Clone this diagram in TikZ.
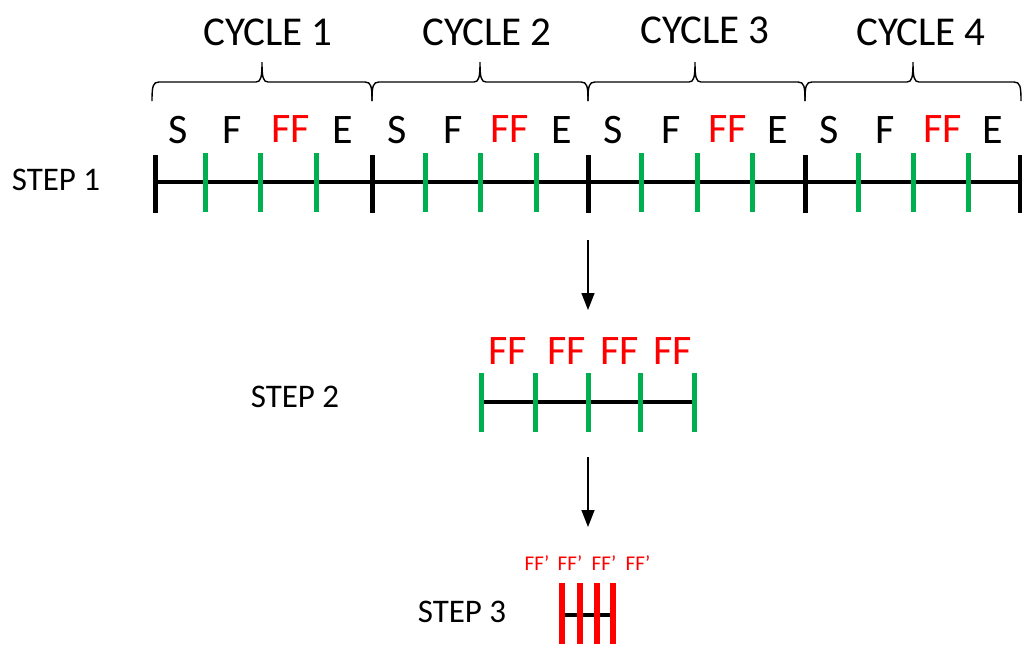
\documentclass[tikz,border=0pt]{standalone}
\usepackage{fontspec}
\setmainfont{Carlito}
\usetikzlibrary{arrows.meta}
\definecolor{tickgreen}{RGB}{0,176,80}
\definecolor{ffred}{RGB}{255,0,0}
\begin{document}
\begin{tikzpicture}[x=1pt,y=-1pt,
  phase/.style={inner sep=0pt,anchor=center,font=\fontsize{42}{50}\selectfont},
  cycletitle/.style={inner sep=0pt,anchor=center,font=\fontsize{41}{49}\selectfont},
  steplabel/.style={inner sep=0pt,font=\fontsize{33}{40}\selectfont},
  smallff/.style={inner sep=0pt,text=ffred,font=\fontsize{21}{25}\selectfont},
  axis/.style={line width=3.5pt},
  bound/.style={line width=5pt},
  gtick/.style={line width=5pt,tickgreen},
  rtick/.style={line width=6pt,ffred},
  cyclebrace/.style={line width=1.4pt},
  flow/.style={line width=1.5pt,-{Triangle[length=17pt,width=13pt]}}]
\useasboundingbox (0,0) rectangle (1022,646);

% ---- step 1: four cycles on one time line
\draw[axis] (155,182) -- (1020,182);
\foreach \x in {155,372,588,805,1020}
  \draw[bound] (\x,155) -- (\x,213);
\foreach \x in {205,260,316,425,480,536,641,697,752,858,913,968}
  \draw[gtick] (\x,153) -- (\x,212);

% cycle braces (left end, tip, right end)
\foreach \l/\m/\r in {152/262/372, 372/480/588, 588/695/805, 805/913/1021}
  \draw[cyclebrace]
    (\l,101) .. controls (\l,86) and (\l+1,82) .. (\l+7,82)
    -- (\m-6,82) .. controls (\m-1,82) and (\m,77) .. (\m,62)
    .. controls (\m,77) and (\m+1,82) .. (\m+6,82)
    -- (\r-7,82) .. controls (\r-1,82) and (\r,86) .. (\r,101);

\node[cycletitle] (c1) at (268,32) {CYCLE 1};
\node[cycletitle] (c2) at (487,32) {CYCLE 2};
\node[cycletitle] (c3) at (705,30) {CYCLE 3};
\node[cycletitle] (c4) at (921,32) {CYCLE 4};

% phase letters of each cycle
\foreach \i/\s/\f/\ff/\e in {1/178/232/291/343, 2/397/453/510/562, 3/613/671/728/778, 4/829/885/943/993}{
  \node[phase] (s\i) at (\s,130) {S};
  \node[phase] (f\i) at (\f,130) {F};
  \node[phase,text=ffred] (ff\i) at (\ff,129) {FF};
  \node[phase] (e\i) at (\e,130) {E};
}
\node[steplabel] (step1) at (56,180) {STEP 1};

% ---- step 2: the FF phases collected
\coordinate (a1s) at (588,240);
\coordinate (a1e) at (588,310);
\draw[flow] (a1s) -- (a1e);
\draw[axis] (481,402) -- (694,402);
\foreach \x in {481,535,588,640,694}
  \draw[gtick] (\x,373) -- (\x,432);
\foreach \i/\x in {1/508,2/567,3/620,4/673}
  \node[phase,text=ffred] (g\i) at (\x,351) {FF};
\node[steplabel] (step2) at (295,397) {STEP 2};

% ---- step 3: compressed FF' phases
\coordinate (a2s) at (588,457);
\coordinate (a2e) at (588,527);
\draw[flow] (a2s) -- (a2e);
\draw[axis] (562,615) -- (613,615);
\foreach \x in {562,580,597,613}
  \draw[rtick] (\x,583) -- (\x,644);
\foreach \i/\x in {1/537,2/570,3/604,4/638}
  \node[smallff] (h\i) at (\x,563) {FF’};
\node[steplabel] (step3) at (462,612) {STEP 3};
\end{tikzpicture}
\end{document}
